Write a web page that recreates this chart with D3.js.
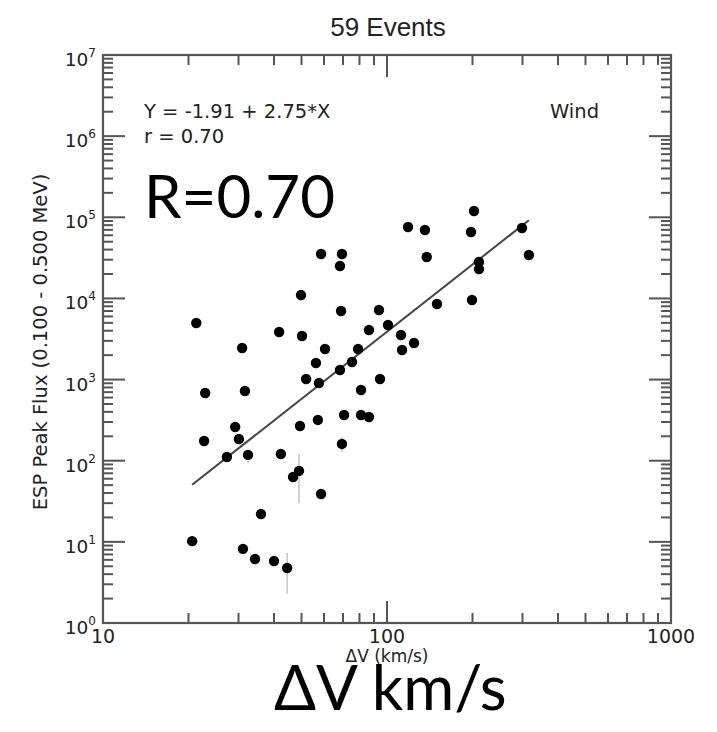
<!DOCTYPE html>
<html>
<head>
<meta charset="utf-8">
<script src="https://cdn.jsdelivr.net/npm/d3@7"></script>
<style>
  html, body { margin: 0; padding: 0; background: #fff; }
  svg { display: block; }
</style>
</head>
<body>
<svg id="chart" width="717" height="732"></svg>
<script>
// ---- data ----
const title = "59 Events";
const xLabel = "ΔV (km/s)";
const yLabel = "ESP Peak Flux (0.100 - 0.500 MeV)";
const fitText = "Y = -1.91 + 2.75*X";
const rText = "r = 0.70";
const spacecraft = "Wind";
const bigR = "R=0.70";
const bigX = "ΔV km/s";
const fitIntercept = -1.91;
const fitSlope = 2.75;

const deltaV = [21.3, 22.9, 22.7, 20.6, 27.3, 29.2, 30.1, 30.9, 31.6, 32.4,
  31.1, 34.3, 36.0, 40.0, 44.5, 41.7, 42.3, 46.7, 49.0, 49.8,
  50.2, 49.4, 51.9, 56.2, 57.1, 57.6, 58.6, 60.5, 58.6, 68.3,
  69.4, 68.9, 68.3, 69.4, 70.6, 75.3, 79.1, 81.0, 81.0, 86.4,
  86.4, 93.7, 94.5, 100.8, 112, 113, 118.6, 124.5, 136, 138,
  150, 197.6, 199.2, 202.5, 210.8, 210.8, 298.8, 316];
const peakFlux = [4980, 684, 175, 10.2, 111, 260, 185, 2450, 723, 118,
  8.2, 6.15, 22.0, 5.8, 4.76, 3860, 121, 63, 75, 11000,
  3440, 268, 1016, 1600, 318, 908, 38.9, 2380, 35300, 25100,
  35300, 7000, 1312, 161, 366, 1648, 2380, 744, 366, 346,
  4080, 7210, 1016, 4710, 3540, 2315, 75900, 2825, 69700, 32400,
  8540, 65900, 9570, 119600, 28100, 23000, 73800, 34300];

// error bars (only those visible in the picture)
const errV = [49.0, 44.5, 69.4, 32.4];
const errLo = [30, 2.3, 128, 95];
const errHi = [121, 7.3, 195, 135];

const xMajor = [10, 100, 1000];
const yMajor = [1, 10, 100, 1e3, 1e4, 1e5, 1e6, 1e7];

// ---- layout ----
const L = 103, R = 671, T = 55, B = 623;
const svg = d3.select("#chart");
const x = d3.scaleLog().domain([10, 1000]).range([L, R]);
const y = d3.scaleLog().domain([1, 1e7]).range([B, T]);

const axisColor = "#555";
const textColor = "#222";
const smallFont = "DejaVu Sans, Verdana, sans-serif";
const bigFont = "Lato, 'Open Sans', sans-serif";

// minor ticks
function minors(major) {
  const out = [];
  for (let i = 0; i < major.length - 1; i++)
    for (let k = 2; k <= 9; k++) out.push(major[i] * k);
  return out;
}
const xMinor = minors(xMajor);
const yMinor = minors(yMajor);
const majLen = 22, minLen = 10;

const g = svg.append("g");
// frame
g.append("rect").attr("x", L).attr("y", T).attr("width", R - L).attr("height", B - T)
  .attr("fill", "none").attr("stroke", axisColor).attr("stroke-width", 2.2);

function xt(vals, len) {
  g.selectAll(null).data(vals).enter().append("line")
    .attr("x1", d => x(d)).attr("x2", d => x(d)).attr("y1", B).attr("y2", B - len)
    .attr("stroke", axisColor).attr("stroke-width", 2);
  g.selectAll(null).data(vals).enter().append("line")
    .attr("x1", d => x(d)).attr("x2", d => x(d)).attr("y1", T).attr("y2", T + len)
    .attr("stroke", axisColor).attr("stroke-width", 2);
}
function yt(vals, len) {
  g.selectAll(null).data(vals).enter().append("line")
    .attr("y1", d => y(d)).attr("y2", d => y(d)).attr("x1", L).attr("x2", L + len)
    .attr("stroke", axisColor).attr("stroke-width", 2);
  g.selectAll(null).data(vals).enter().append("line")
    .attr("y1", d => y(d)).attr("y2", d => y(d)).attr("x1", R).attr("x2", R - len)
    .attr("stroke", axisColor).attr("stroke-width", 2);
}
xt(xMajor, majLen); xt(xMinor, minLen);
yt(yMajor, majLen); yt(yMinor, minLen);

// x tick labels
g.selectAll(null).data(xMajor).enter().append("text")
  .attr("x", d => x(d)).attr("y", B + 20)
  .attr("text-anchor", "middle").attr("font-family", smallFont).attr("font-size", 19)
  .attr("fill", textColor).text(d => d3.format("d")(d));

// y tick labels 10^n
const yl = g.selectAll(null).data(yMajor).enter().append("text")
  .attr("x", L - 7).attr("y", d => y(d) + 11)
  .attr("text-anchor", "end").attr("font-family", smallFont).attr("font-size", 18.5)
  .attr("fill", textColor);
yl.append("tspan").text("10");
yl.append("tspan").attr("font-size", 12).attr("dy", -9).text(d => Math.round(Math.log10(d)));

// axis titles
svg.append("text").attr("x", 387).attr("y", B + 39)
  .attr("text-anchor", "middle").attr("font-family", smallFont).attr("font-size", 17)
  .attr("fill", textColor).text(xLabel);
svg.append("text").attr("transform", `translate(47,342) rotate(-90)`)
  .attr("text-anchor", "middle").attr("font-family", smallFont).attr("font-size", 19.5)
  .attr("fill", textColor).text(yLabel);

// title
svg.append("text").attr("x", 388).attr("y", 36)
  .attr("text-anchor", "middle").attr("font-family", "Liberation Sans, Arial, sans-serif").attr("font-size", 26)
  .attr("fill", textColor).text(title);

// annotations
svg.append("text").attr("x", 144).attr("y", 118).attr("font-family", smallFont)
  .attr("font-size", 19.5).attr("fill", textColor).text(fitText);
svg.append("text").attr("x", 144).attr("y", 143).attr("font-family", smallFont)
  .attr("font-size", 19.5).attr("fill", textColor).text(rText);
svg.append("text").attr("x", 550).attr("y", 118).attr("font-family", smallFont)
  .attr("font-size", 19.5).attr("fill", textColor).text(spacecraft);

// error bars
svg.append("g").selectAll("line").data(errV.map((v, i) => ({ v, lo: errLo[i], hi: errHi[i] })))
  .enter().append("line")
  .attr("x1", d => x(d.v)).attr("x2", d => x(d.v)).attr("y1", d => y(d.lo)).attr("y2", d => y(d.hi))
  .attr("stroke", "#c8c8c8").attr("stroke-width", 1.6);

// fit line
const vExt = d3.extent(deltaV);
const fit = v => Math.pow(10, fitIntercept + fitSlope * Math.log10(v));
svg.append("line")
  .attr("x1", x(vExt[0])).attr("y1", y(fit(vExt[0])))
  .attr("x2", x(vExt[1])).attr("y2", y(fit(vExt[1])))
  .attr("stroke", "#444").attr("stroke-width", 2);

// points
svg.append("g").selectAll("circle").data(deltaV.map((v, i) => ({ v, f: peakFlux[i] })))
  .enter().append("circle")
  .attr("cx", d => x(d.v)).attr("cy", d => y(d.f)).attr("r", 5.2).attr("fill", "#000");

// big overlay text
svg.append("text").attr("x", 144).attr("y", 218).attr("font-family", bigFont)
  .attr("font-size", 60).attr("fill", "#000").text(bigR);
svg.append("text").attr("x", 274).attr("y", 710).attr("font-family", bigFont)
  .attr("font-size", 62).attr("fill", "#000").text(bigX);
</script>
</body>
</html>
